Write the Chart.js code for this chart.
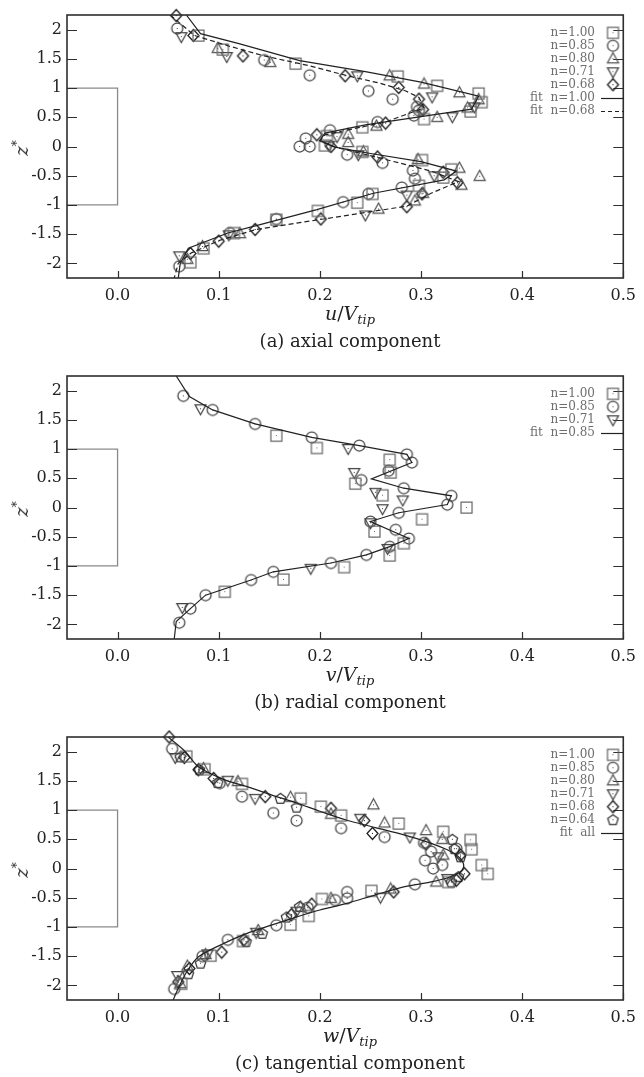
<html><head><meta charset="UTF-8">
<title>Velocity profiles</title>
<style>
    body, html {
        margin: 0;
        padding: 0;
        background: #fff;
        font-family: 'DejaVu Serif', serif;
        color: #222;
    }
    .panel {
        position: absolute;
        left: 0;
        width: 644px;
        height: 360px;
    }
    .panel canvas {
        position: absolute;
        left: 0;
        top: 0;
    }
    .ytitle {
        position: absolute;
        left: 21px;
        top: 148px;
        font-size: 18px;
        transform: translate(-50%, -50%) rotate(-90deg);
        white-space: nowrap;
    }
    .xtitle, .caption {
        position: absolute;
        left: 56px;
        width: 588px;
        text-align: center;
        transform: translateY(-50%);
        white-space: nowrap;
    }
    .xtitle { font-size: 19px; }
    .caption { font-size: 18px; }
    sub { font-size: 13px; vertical-align: -4px; }
    sup { font-size: 12px; vertical-align: 7px; }
</style>
<script src="https://cdn.jsdelivr.net/npm/chart.js"></script>
</head>
<body>
    <div class="panel" style="top:0">
        <canvas id="chartA" width="644" height="310"></canvas>
        <div class="ytitle"><i>z</i><sup>*</sup></div>
        <div class="xtitle" style="top:314px"><i>u</i>/<i>V</i><sub><i>tip</i></sub></div>
        <div class="caption" style="top:340px">(a) axial component</div>
    </div>
    <div class="panel" style="top:361px">
        <canvas id="chartB" width="644" height="310"></canvas>
        <div class="ytitle"><i>z</i><sup>*</sup></div>
        <div class="xtitle" style="top:314px"><i>v</i>/<i>V</i><sub><i>tip</i></sub></div>
        <div class="caption" style="top:340px">(b) radial component</div>
    </div>
    <div class="panel" style="top:722px">
        <canvas id="chartC" width="644" height="310"></canvas>
        <div class="ytitle"><i>z</i><sup>*</sup></div>
        <div class="xtitle" style="top:314px"><i>w</i>/<i>V</i><sub><i>tip</i></sub></div>
        <div class="caption" style="top:340px">(c) tangential component</div>
    </div>

<script>
// axis ticks
const xTickVals = [0, 0.1, 0.2, 0.3, 0.4, 0.5];
const zTickVals = [-2, -1.5, -1, -0.5, 0, 0.5, 1, 1.5, 2];

// blade outline
const bladeU = [-0.05, 0, 0, -0.05];
const bladeZ = [1, 1, -1, -1];

// (a) axial component
const aN100U = [0.080, 0.104, 0.176, 0.277, 0.316, 0.357, 0.360, 0.349, 0.303, 0.242, 0.207, 0.205, 0.242, 0.301, 0.330, 0.322, 0.298, 0.252, 0.237, 0.198, 0.157, 0.115, 0.085, 0.072];
const aN100Z = [1.90, 1.66, 1.42, 1.20, 1.04, 0.91, 0.76, 0.60, 0.47, 0.33, 0.18, 0.02, -0.09, -0.23, -0.39, -0.53, -0.67, -0.81, -0.96, -1.10, -1.25, -1.48, -1.74, -1.98];
const aN085U = [0.059, 0.145, 0.190, 0.248, 0.272, 0.296, 0.298, 0.293, 0.257, 0.210, 0.186, 0.180, 0.190, 0.227, 0.262, 0.292, 0.294, 0.281, 0.248, 0.223, 0.157, 0.111, 0.061];
const aN085Z = [2.02, 1.48, 1.22, 0.95, 0.81, 0.68, 0.62, 0.53, 0.42, 0.28, 0.14, 0.00, 0.00, -0.14, -0.28, -0.41, -0.55, -0.70, -0.81, -0.95, -1.24, -1.48, -2.05];
const aN080U = [0.099, 0.151, 0.269, 0.303, 0.338, 0.357, 0.346, 0.316, 0.256, 0.228, 0.228, 0.243, 0.297, 0.338, 0.358, 0.340, 0.302, 0.294, 0.258, 0.121, 0.084, 0.069];
const aN080Z = [1.68, 1.44, 1.21, 1.07, 0.92, 0.80, 0.66, 0.50, 0.35, 0.21, 0.07, -0.09, -0.22, -0.37, -0.51, -0.66, -0.80, -0.93, -1.07, -1.49, -1.71, -1.93];
const aN071U = [0.063, 0.108, 0.237, 0.311, 0.353, 0.331, 0.217, 0.209, 0.238, 0.313, 0.286, 0.245, 0.110, 0.061];
const aN071Z = [1.88, 1.54, 1.21, 0.85, 0.68, 0.51, 0.17, 0.02, -0.14, -0.50, -0.83, -1.17, -1.51, -1.87];
const aN068U = [0.058, 0.075, 0.124, 0.225, 0.278, 0.298, 0.302, 0.265, 0.197, 0.211, 0.257, 0.322, 0.336, 0.301, 0.286, 0.201, 0.136, 0.100, 0.072];
const aN068Z = [2.24, 1.90, 1.55, 1.21, 1.01, 0.81, 0.63, 0.40, 0.20, 0.00, -0.18, -0.44, -0.62, -0.81, -1.03, -1.24, -1.42, -1.62, -1.83];
const aFit100U = [0.068, 0.082, 0.120, 0.180, 0.245, 0.300, 0.357, 0.350, 0.300, 0.245, 0.205, 0.200, 0.215, 0.250, 0.300, 0.335, 0.323, 0.253, 0.197, 0.140, 0.109, 0.070, 0.062, 0.060];
const aFit100Z = [2.25, 1.93, 1.76, 1.47, 1.28, 1.10, 0.86, 0.64, 0.51, 0.37, 0.23, 0.10, -0.01, -0.12, -0.26, -0.42, -0.57, -0.80, -1.08, -1.34, -1.48, -1.74, -2.00, -2.25];
const aFit068U = [0.052, 0.076, 0.110, 0.145, 0.190, 0.225, 0.260, 0.285, 0.298, 0.303, 0.265, 0.205, 0.200, 0.215, 0.260, 0.310, 0.337, 0.310, 0.286, 0.245, 0.200, 0.137, 0.100, 0.073, 0.060, 0.056];
const aFit068Z = [2.25, 1.90, 1.72, 1.55, 1.38, 1.22, 1.08, 0.95, 0.84, 0.66, 0.42, 0.20, 0.10, -0.01, -0.20, -0.42, -0.60, -0.80, -1.02, -1.13, -1.25, -1.42, -1.61, -1.82, -2.00, -2.25];

// (b) radial component
const bN100U = [0.157, 0.197, 0.269, 0.270, 0.235, 0.262, 0.345, 0.301, 0.254, 0.283, 0.269, 0.224, 0.164, 0.106];
const bN100Z = [1.23, 1.02, 0.82, 0.60, 0.41, 0.21, 0.00, -0.20, -0.41, -0.61, -0.82, -1.02, -1.23, -1.44];
const bN085U = [0.065, 0.094, 0.136, 0.192, 0.239, 0.286, 0.291, 0.268, 0.241, 0.283, 0.330, 0.326, 0.278, 0.250, 0.275, 0.288, 0.269, 0.246, 0.211, 0.154, 0.132, 0.087, 0.072, 0.061];
const bN085Z = [1.91, 1.67, 1.43, 1.20, 1.06, 0.91, 0.77, 0.63, 0.47, 0.33, 0.20, 0.05, -0.09, -0.24, -0.38, -0.53, -0.67, -0.81, -0.95, -1.10, -1.24, -1.50, -1.73, -1.97];
const bN071U = [0.082, 0.228, 0.234, 0.255, 0.282, 0.262, 0.250, 0.267, 0.191, 0.064];
const bN071Z = [1.69, 1.01, 0.60, 0.26, 0.13, -0.02, -0.26, -0.70, -1.04, -1.71];
const bFitU = [0.058, 0.071, 0.094, 0.136, 0.192, 0.239, 0.286, 0.291, 0.251, 0.283, 0.330, 0.326, 0.278, 0.250, 0.288, 0.269, 0.246, 0.211, 0.154, 0.132, 0.087, 0.072, 0.058, 0.056];
const bFitZ = [2.25, 1.90, 1.67, 1.43, 1.20, 1.06, 0.91, 0.77, 0.49, 0.33, 0.20, 0.05, -0.09, -0.24, -0.53, -0.67, -0.81, -0.95, -1.10, -1.24, -1.50, -1.73, -1.95, -2.25];

// (c) tangential component
const cN100U = [0.068, 0.086, 0.123, 0.181, 0.201, 0.221, 0.278, 0.322, 0.349, 0.350, 0.360, 0.366, 0.327, 0.251, 0.202, 0.189, 0.171, 0.124, 0.092, 0.063];
const cN100Z = [1.92, 1.70, 1.45, 1.20, 1.06, 0.91, 0.77, 0.63, 0.49, 0.33, 0.06, -0.09, -0.23, -0.38, -0.52, -0.81, -0.96, -1.24, -1.49, -1.97];
const cN085U = [0.054, 0.101, 0.123, 0.154, 0.177, 0.221, 0.264, 0.303, 0.310, 0.304, 0.312, 0.321, 0.335, 0.294, 0.227, 0.227, 0.215, 0.188, 0.157, 0.109, 0.084, 0.056];
const cN085Z = [2.05, 1.46, 1.23, 0.95, 0.82, 0.69, 0.54, 0.44, 0.29, 0.14, 0.00, 0.06, 0.34, -0.27, -0.40, -0.51, -0.54, -0.67, -0.97, -1.22, -1.50, -2.06];
const cN080U = [0.085, 0.119, 0.171, 0.211, 0.253, 0.264, 0.305, 0.321, 0.322, 0.315, 0.270, 0.211, 0.181, 0.139, 0.087, 0.069, 0.062];
const cN080Z = [1.71, 1.49, 1.22, 0.93, 1.09, 0.78, 0.65, 0.50, 0.23, -0.23, -0.35, -0.51, -0.66, -1.06, -1.47, -1.67, -1.97];
const cN071U = [0.057, 0.109, 0.136, 0.240, 0.289, 0.317, 0.326, 0.260, 0.177, 0.137, 0.089, 0.059];
const cN071Z = [1.90, 1.51, 1.20, 0.86, 0.54, 0.20, -0.17, -0.49, -0.73, -1.09, -1.46, -1.83];
const cN068U = [0.051, 0.066, 0.080, 0.095, 0.146, 0.211, 0.244, 0.252, 0.305, 0.339, 0.343, 0.335, 0.273, 0.192, 0.172, 0.125, 0.103, 0.071, 0.060];
const cN068Z = [2.25, 1.90, 1.69, 1.54, 1.23, 1.03, 0.82, 0.60, 0.42, 0.23, -0.09, -0.20, -0.40, -0.61, -0.79, -1.22, -1.43, -1.71, -1.94];
const cN064U = [0.062, 0.081, 0.099, 0.161, 0.177, 0.331, 0.333, 0.339, 0.337, 0.330, 0.180, 0.167, 0.143, 0.127, 0.082, 0.070];
const cN064Z = [1.91, 1.69, 1.47, 1.20, 1.05, 0.50, 0.34, 0.20, -0.14, -0.23, -0.65, -0.83, -1.11, -1.25, -1.62, -1.80];
const cFitU = [0.050, 0.067, 0.080, 0.104, 0.128, 0.152, 0.177, 0.200, 0.226, 0.255, 0.284, 0.305, 0.322, 0.335, 0.341, 0.342, 0.338, 0.328, 0.310, 0.284, 0.255, 0.226, 0.200, 0.177, 0.152, 0.128, 0.104, 0.080, 0.069, 0.060, 0.055];
const cFitZ = [2.25, 2.00, 1.74, 1.53, 1.40, 1.26, 1.12, 0.98, 0.83, 0.70, 0.57, 0.46, 0.35, 0.23, 0.12, 0.02, -0.07, -0.15, -0.23, -0.31, -0.45, -0.60, -0.71, -0.83, -0.97, -1.11, -1.29, -1.51, -1.75, -2.05, -2.25];

Chart.defaults.font.family = "'DejaVu Serif', serif";
Chart.defaults.color = '#222';

// hollow gnuplot-like markers with a centre dot
function marker(shape, color) {
    const s = 15, m = 7.5, r = 5.5;
    const c = document.createElement('canvas');
    c.width = s; c.height = s;
    const g = c.getContext('2d');
    g.strokeStyle = color;
    g.lineWidth = 1.25;
    g.beginPath();
    if (shape === 'square') {
        g.rect(m - r, m - r, 2 * r, 2 * r);
    } else if (shape === 'circle') {
        g.arc(m, m, r, 0, Math.PI * 2);
    } else if (shape === 'up') {
        g.moveTo(m, m - r - 0.5); g.lineTo(m + r, m + r - 1.5); g.lineTo(m - r, m + r - 1.5); g.closePath();
    } else if (shape === 'down') {
        g.moveTo(m, m + r + 0.5); g.lineTo(m + r, m - r + 1.5); g.lineTo(m - r, m - r + 1.5); g.closePath();
    } else if (shape === 'diamond') {
        g.moveTo(m, m - r - 0.5); g.lineTo(m + r, m); g.lineTo(m, m + r + 0.5); g.lineTo(m - r, m); g.closePath();
    } else if (shape === 'pent') {
        for (let k = 0; k < 5; k++) {
            const t = -Math.PI / 2 + k * 2 * Math.PI / 5;
            const px = m + r * Math.cos(t), py = m + 0.5 + r * Math.sin(t);
            if (k === 0) g.moveTo(px, py); else g.lineTo(px, py);
        }
        g.closePath();
    }
    g.stroke();
    g.fillStyle = color;
    g.fillRect(m - 0.5, m - 0.5, 1, 1);
    return c;
}

const mkSq = marker('square', '#6a6a6a');
const mkCi = marker('circle', '#444');
const mkUp = marker('up', '#505050');
const mkDn = marker('down', '#444');
const mkDi = marker('diamond', '#1a1a1a');
const mkPe = marker('pent', '#333');

const zip = (u, z) => u.map((v, i) => ({x: v, y: z[i]}));

function pointSet(u, z, mk) {
    return {data: zip(u, z), showLine: false, pointStyle: mk, pointRadius: 5, clip: false};
}
function lineSet(u, z, opts) {
    return Object.assign({
        data: zip(u, z), showLine: true, pointRadius: 0,
        borderColor: '#222', borderWidth: 1.2, tension: 0, fill: false
    }, opts || {});
}
const blade = () => lineSet(bladeU, bladeZ, {borderColor: '#8a8a8a', borderWidth: 1.3, clip: false});

function framePlugin(rows) {
    return {
        id: 'frame',
        afterDraw(chart) {
            const ctx = chart.ctx, a = chart.chartArea;
            const x = chart.scales.x, y = chart.scales.y;
            ctx.save();
            ctx.strokeStyle = '#2e2e2e';
            ctx.lineWidth = 1.2;
            ctx.beginPath();
            zTickVals.forEach(v => {
                const py = Math.round(y.getPixelForValue(v)) + 0.5;
                ctx.moveTo(a.left, py); ctx.lineTo(a.left + 10, py);
                ctx.moveTo(a.right, py); ctx.lineTo(a.right - 10, py);
            });
            xTickVals.forEach(v => {
                const px = Math.round(x.getPixelForValue(v)) + 0.5;
                ctx.moveTo(px, a.bottom); ctx.lineTo(px, a.bottom - 7);
            });
            ctx.stroke();
            ctx.lineWidth = 1.6;
            ctx.strokeRect(a.left, a.top, a.right - a.left, a.bottom - a.top);

            // legend
            ctx.font = "12px 'DejaVu Serif'";
            ctx.textAlign = 'right';
            ctx.textBaseline = 'middle';
            rows.forEach((r, i) => {
                const yy = a.top + 17.7 + i * 13;
                ctx.fillStyle = '#6e6e6e';
                ctx.fillText(r.label, 595, yy);
                if (r.mk) {
                    ctx.drawImage(r.mk, 613 - r.mk.width / 2, yy - r.mk.height / 2);
                } else {
                    ctx.strokeStyle = '#222';
                    ctx.lineWidth = 1.2;
                    ctx.setLineDash(r.dash || []);
                    ctx.beginPath();
                    ctx.moveTo(601, Math.round(yy) + 0.5);
                    ctx.lineTo(624, Math.round(yy) + 0.5);
                    ctx.stroke();
                    ctx.setLineDash([]);
                }
            });
            ctx.restore();
        }
    };
}

function makeChart(id, datasets, rows) {
    return new Chart(document.getElementById(id), {
        type: 'scatter',
        data: {datasets: datasets},
        plugins: [framePlugin(rows)],
        options: {
            responsive: false,
            animation: false,
            devicePixelRatio: 1,
            events: [],
            layout: {padding: {top: 15, right: 13, left: 0, bottom: 0}},
            plugins: {legend: {display: false}, tooltip: {enabled: false}},
            scales: {
                x: {
                    type: 'linear', min: -0.05, max: 0.5,
                    grid: {display: false, drawTicks: false},
                    border: {display: false},
                    afterBuildTicks: s => { s.ticks = xTickVals.map(v => ({value: v})); },
                    afterFit: s => { s.height = 32; },
                    ticks: {padding: 8, font: {size: 16}, color: '#222', maxRotation: 0, autoSkip: false,
                            callback: v => Number(v).toFixed(1)}
                },
                y: {
                    type: 'linear', min: -2.25, max: 2.25,
                    grid: {display: false, drawTicks: false},
                    border: {display: false},
                    afterBuildTicks: s => { s.ticks = zTickVals.map(v => ({value: v})); },
                    afterFit: s => { s.width = 67; },
                    ticks: {padding: 5, font: {size: 16}, color: '#222', autoSkip: false,
                            callback: v => String(v)}
                }
            }
        }
    });
}

makeChart('chartA', [
    blade(),
    lineSet(aFit100U, aFit100Z),
    lineSet(aFit068U, aFit068Z, {borderDash: [5, 3]}),
    pointSet(aN100U, aN100Z, mkSq),
    pointSet(aN085U, aN085Z, mkCi),
    pointSet(aN080U, aN080Z, mkUp),
    pointSet(aN071U, aN071Z, mkDn),
    pointSet(aN068U, aN068Z, mkDi)
], [
    {label: 'n=1.00', mk: mkSq},
    {label: 'n=0.85', mk: mkCi},
    {label: 'n=0.80', mk: mkUp},
    {label: 'n=0.71', mk: mkDn},
    {label: 'n=0.68', mk: mkDi},
    {label: 'fit  n=1.00'},
    {label: 'fit  n=0.68', dash: [4, 3]}
]);

makeChart('chartB', [
    blade(),
    lineSet(bFitU, bFitZ),
    pointSet(bN100U, bN100Z, mkSq),
    pointSet(bN085U, bN085Z, mkCi),
    pointSet(bN071U, bN071Z, mkDn)
], [
    {label: 'n=1.00', mk: mkSq},
    {label: 'n=0.85', mk: mkCi},
    {label: 'n=0.71', mk: mkDn},
    {label: 'fit  n=0.85'}
]);

makeChart('chartC', [
    blade(),
    lineSet(cFitU, cFitZ, {tension: 0.3}),
    pointSet(cN100U, cN100Z, mkSq),
    pointSet(cN085U, cN085Z, mkCi),
    pointSet(cN080U, cN080Z, mkUp),
    pointSet(cN071U, cN071Z, mkDn),
    pointSet(cN068U, cN068Z, mkDi),
    pointSet(cN064U, cN064Z, mkPe)
], [
    {label: 'n=1.00', mk: mkSq},
    {label: 'n=0.85', mk: mkCi},
    {label: 'n=0.80', mk: mkUp},
    {label: 'n=0.71', mk: mkDn},
    {label: 'n=0.68', mk: mkDi},
    {label: 'n=0.64', mk: mkPe},
    {label: 'fit  all'}
]);
</script>
</body>
</html>
